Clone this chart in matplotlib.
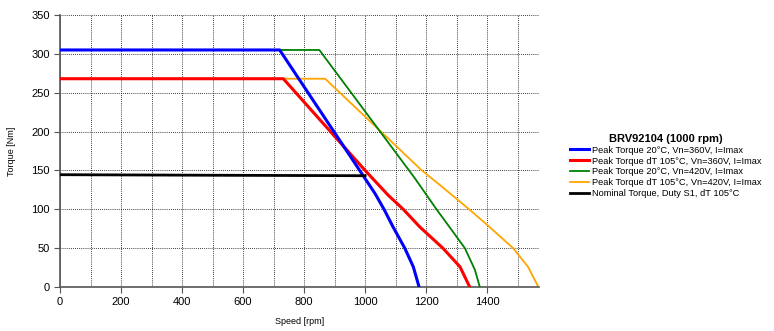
import numpy as np
import matplotlib.pyplot as plt
from matplotlib.ticker import MultipleLocator

TITLE = "BRV92104 (1000 rpm)"

# peak torque 20C, 360V
blue_rpm = [0, 720, 989, 1033, 1062, 1092, 1130, 1158, 1177]
blue_nm = [305, 305, 146, 120, 100, 77, 50, 26, 0]

# peak torque dT 105C, 360V
red_rpm = [0, 732, 1000, 1076, 1125, 1180, 1255, 1311, 1343]
red_nm = [268, 268, 150, 118, 100, 77, 50, 26, 0]

# peak torque 20C, 420V
green_rpm = [0, 850, 1163, 1234, 1290, 1327, 1360, 1376]
green_nm = [305, 305, 140, 100, 70, 50, 22, 0]

# peak torque dT 105C, 420V
orange_rpm = [0, 869, 1186, 1246, 1341, 1400, 1485, 1534, 1568]
orange_nm = [268, 268, 150, 131, 100, 80, 50, 26, 0]

# nominal torque
black_rpm = [0, 500, 1000]
black_nm = [144.5, 143.8, 143.2]

labels = [
    "Peak Torque 20°C, Vn=360V, I=Imax",
    "Peak Torque dT 105°C, Vn=360V, I=Imax",
    "Peak Torque 20°C, Vn=420V, I=Imax",
    "Peak Torque dT 105°C, Vn=420V, I=Imax",
    "Nominal Torque, Duty S1, dT 105°C",
]

plt.rcParams["font.family"] = ["Liberation Sans", "DejaVu Sans"]

fig = plt.figure(figsize=(7.74, 3.31), dpi=100)
ax = fig.add_axes([60 / 774, 44 / 331, 479 / 774, 272 / 331])

ax.plot(blue_rpm, blue_nm, color="#0000ff", lw=2.2, label=labels[0], zorder=5)
ax.plot(red_rpm, red_nm, color="#ff0000", lw=2.2, label=labels[1], zorder=4)
ax.plot(green_rpm, green_nm, color="#008000", lw=1.3, label=labels[2], zorder=3)
ax.plot(orange_rpm, orange_nm, color="#ffa500", lw=1.3, label=labels[3], zorder=2)
ax.plot(black_rpm, black_nm, color="black", lw=2.0, label=labels[4], zorder=6)

ax.set_xlim(0, 1570)
ax.set_ylim(0, 350)
ax.xaxis.set_major_locator(MultipleLocator(200))
ax.xaxis.set_minor_locator(MultipleLocator(100))
ax.yaxis.set_major_locator(MultipleLocator(50))
ax.grid(which="both", color="black", linestyle=(0, (1, 1.5)), linewidth=0.6)
ax.tick_params(which="minor", length=0)
ax.tick_params(axis="both", labelsize=8, length=4, color="#555555")
for s in ["top", "right"]:
    ax.spines[s].set_visible(False)
for s in ["left", "bottom"]:
    ax.spines[s].set_color("#555555")
    ax.spines[s].set_linewidth(1.2)

ax.set_xlabel("Speed [rpm]", fontsize=6.5, labelpad=7)
ax.set_ylabel("Torque [Nm]", fontsize=6.5, labelpad=11)

leg = fig.legend(loc="center left", bbox_to_anchor=(562 / 774, 1 - 166 / 331),
                 frameon=False, fontsize=6.7, title=TITLE,
                 title_fontproperties={"weight": "bold", "size": 8},
                 handlelength=2.0, handletextpad=0.35, labelspacing=0.2)

fig.savefig("out.png", dpi=100)
